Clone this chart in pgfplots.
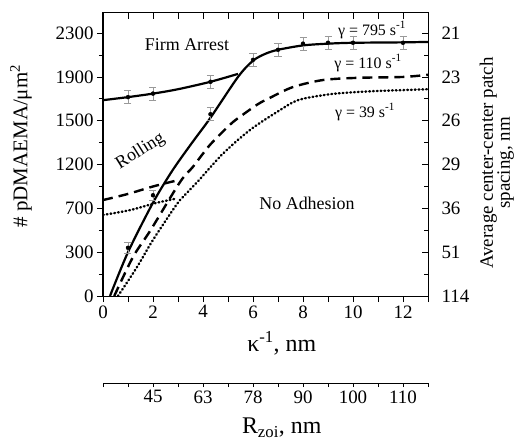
\documentclass[border=0pt]{standalone}
\usepackage{fontspec}
\setmainfont{Liberation Serif}
\usepackage{pgfplots}
\pgfplotsset{compat=1.18}

\begin{document}
\begin{tikzpicture}
\useasboundingbox (-103bp,-146bp) rectangle (412bp,296bp);
% main axis: left and bottom ticks outside
\begin{axis}[
  scale only axis, width=325bp, height=283bp,
  xmin=0, xmax=13, ymin=0, ymax=6.46,
  xtick={0,...,13}, xticklabels={0,,2,,4,,6,,8,,10,,12,},
  ytick={0,...,6}, yticklabels={0,300,700,1200,1500,1900,2300},
  minor ytick={0.5,1.5,...,5.5},
  xtick pos=left, ytick pos=left, tick align=outside,
  major tick length=6bp, minor tick length=4bp,
  tick style={black, line width=0.8bp},
  axis line style={line width=1bp},
  tick label style={font=\fontsize{19}{21}\selectfont},
  xlabel={κ\textsuperscript{-1}, nm},
  xlabel style={font=\fontsize{24}{26}\selectfont, at={(axis description cs:0.55,-0.166)}, anchor=center},
  ylabel={\# pDMAEMA/μm\textsuperscript{2}},
  ylabel style={font=\fontsize{21}{23}\selectfont, at={(axis description cs:-0.252,0.53)}, anchor=center},
]
% gamma = 795, firm arrest branch
\addplot[black, line width=2.2bp, smooth, tension=0.5] coordinates {
  (0,4.47) (1,4.54) (2,4.62) (3,4.72) (4.3,4.89) (5.4,5.07)
};
% gamma = 795, main curve
\addplot[black, line width=2.2bp, smooth, tension=0.5] coordinates {
  (0.28,0) (1,1.0) (2,2.13) (2.76,2.85) (3.5,3.45) (4.3,4.07) (5.4,5.0)
  (6,5.37) (6.5,5.53) (7,5.62) (8,5.72) (9,5.76) (10,5.78) (12,5.79) (13,5.8)
};
% gamma = 110
\addplot[black, line width=2.4bp, dash pattern=on 10bp off 6bp, smooth, tension=0.5] coordinates {
  (0,2.19) (1,2.33) (2,2.5) (2.9,2.63)
};
\addplot[black, line width=2.4bp, dash pattern=on 10bp off 6bp, smooth, tension=0.5] coordinates {
  (0.45,0) (1.2,0.89) (1.9,1.5) (3.08,2.6) (3.6,2.95) (4.28,3.45) (5.1,3.92)
  (5.5,4.1) (6.2,4.38) (6.7,4.53) (7.6,4.77) (8.8,4.93) (10.2,4.98) (12,5.0) (13,5.05)
};
% gamma = 39
\addplot[black, line width=2.4bp, line cap=round, dash pattern=on 0.8bp off 3bp, smooth, tension=0.5] coordinates {
  (0,1.85) (1.08,1.96) (2.1,2.12) (2.9,2.22)
};
\addplot[black, line width=2.4bp, line cap=round, dash pattern=on 0.8bp off 3bp, smooth, tension=0.5] coordinates {
  (0.6,0) (1.36,0.66) (2,1.28) (2.96,2.1) (3.3,2.32) (3.8,2.62) (4.8,3.25)
  (5.88,3.79) (6.96,4.2) (7.8,4.47) (9,4.6) (10,4.65) (11,4.68) (12,4.7) (13,4.72)
};
% error bars
\addplot[only marks, mark=none,
  error bars/.cd, y dir=both, y explicit,
  error bar style={gray!80, line width=0.8bp},
  error mark options={gray!80, rotate=90, mark size=3.5bp, line width=0.8bp}]
coordinates {
  (1,4.54) +- (0,0.15) (2,4.62) +- (0,0.15) (4.3,4.89) +- (0,0.15)
  (1,1.1) +- (0,0.12) (2,2.3) +- (0,0.12) (4.3,4.15) +- (0,0.15)
  (6,5.39) +- (0,0.15) (7,5.62) +- (0,0.15) (8,5.76) +- (0,0.15)
  (9,5.78) +- (0,0.15) (10,5.78) +- (0,0.15) (12,5.78) +- (0,0.15)
};
\node[font=\fontsize{18}{20}\selectfont] at (axis cs:3.36,5.73) {Firm Arrest};
\node[font=\fontsize{18}{20}\selectfont, rotate=32] at (axis cs:1.5,3.3) {Rolling};
\node[font=\fontsize{18}{20}\selectfont] at (axis cs:8.16,2.12) {No Adhesion};
\node[font=\fontsize{16}{18}\selectfont] at (axis cs:10.76,6.07) {γ = 795 s\textsuperscript{-1}};
\node[font=\fontsize{16}{18}\selectfont] at (axis cs:10.6,5.32) {γ = 110 s\textsuperscript{-1}};
\node[font=\fontsize{16}{18}\selectfont] at (axis cs:10.48,4.2) {γ = 39 s\textsuperscript{-1}};
\end{axis}
% overlay: top and right ticks inside, spacing labels on the right
\begin{axis}[
  scale only axis, width=325bp, height=283bp,
  xmin=0, xmax=13, ymin=0, ymax=6.46,
  xtick={0,...,13}, xticklabels={},
  ytick={0,...,6}, yticklabels={114,51,36,29,26,23,21},
  minor ytick={0.5,1.5,...,5.5},
  xtick pos=right, ytick pos=right, yticklabel pos=right, tick align=inside,
  major tick length=6bp, minor tick length=4bp,
  tick style={black, line width=0.8bp},
  axis line style={line width=1bp},
  tick label style={font=\fontsize{19}{21}\selectfont},
  yticklabel style={xshift=10bp},
  ylabel={Average center-center patch\\spacing, nm},
  ylabel style={font=\fontsize{19}{17}\selectfont, align=center, at={(axis description cs:1.212,0.47)}, anchor=center, rotate=0},
]
\addplot[draw=none] coordinates {(0,0)};
\end{axis}
% second x scale
\begin{axis}[
  at={(0,-87bp)}, anchor=south west,
  scale only axis, width=325bp, height=20bp,
  xmin=0, xmax=13, ymin=0, ymax=1,
  axis x line*=bottom, axis y line=none,
  x axis line style={-, line width=1bp},
  xtick={0,...,13}, xticklabels={,,45,,63,,78,,90,,100,,110,},
  tick align=outside, major tick length=4bp,
  tick style={black, line width=0.8bp},
  tick label style={font=\fontsize{19}{21}\selectfont},
  xlabel={R\textsubscript{zoi}, nm},
  xlabel style={font=\fontsize{24}{26}\selectfont, at={(axis description cs:0.55,0)}, yshift=-45bp, anchor=center},
]
\addplot[draw=none] coordinates {(0,0)};
\end{axis}
\end{tikzpicture}
\end{document}
